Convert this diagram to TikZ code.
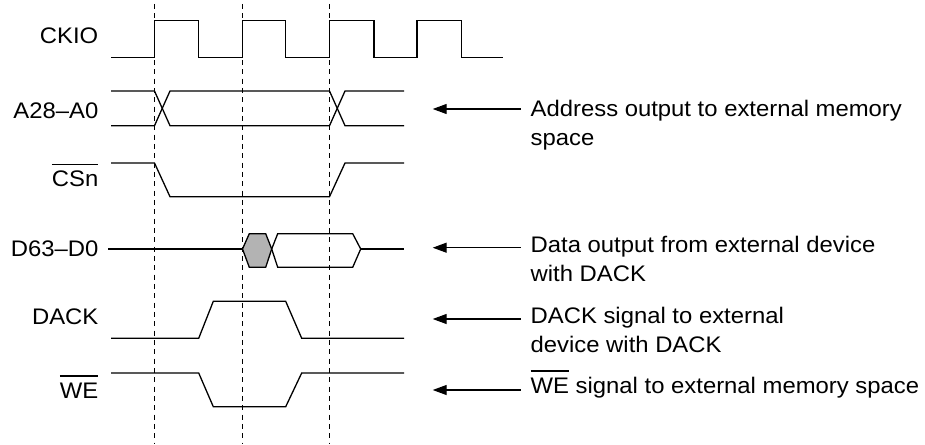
\documentclass[tikz,border=0pt]{standalone}
\usepackage{fontspec}
\setmainfont{Liberation Sans}[FakeStretch=1.06]
\usetikzlibrary{arrows.meta}
\definecolor{hexgray}{RGB}{179,179,179}
\newcommand\olbar[1]{\leavevmode\vbox{\hrule height 1.1pt\kern 6.3pt\hbox{#1}}}
\begin{document}
\begin{tikzpicture}[x=1pt,y=-1pt,
  sig/.style={line width=1.3pt, line join=miter},
  guide/.style={line width=1.2pt, dash pattern=on 5pt off 4.33pt},
  lbl/.style={inner sep=0pt, anchor=base east, font=\fontsize{22.5pt}{29pt}\selectfont},
  note/.style={inner sep=0pt, anchor=base west, align=left, font=\fontsize{22.5pt}{29pt}\selectfont},
  pointer/.style={line width=1.2pt, -{Triangle[length=14pt,width=10pt]}}]
\useasboundingbox (0,0) rectangle (925,444);

% dashed guide lines
\foreach \gx/\gn in {154.5/g1,242.5/g2,329.5/g3}{
  \coordinate (\gn top) at (\gx,4);
  \coordinate (\gn bot) at (\gx,444);
  \draw[guide] (\gn top) -- (\gn bot);
}

% signal labels
\node[lbl] (lckio) at (98.5,43.3) {CKIO};
\node[lbl] (laddr) at (98.5,118.3) {A28–A0};
\node[lbl] (lcs)   at (98.5,186.7) {\olbar{CSn}};
\node[lbl] (ldata) at (98.5,256.7) {D63–D0};
\node[lbl] (ldack) at (98.5,324) {DACK};
\node[lbl] (lwe)   at (98.5,398.3) {\olbar{WE}};

% CKIO
\draw[sig] (111,57.5) -- (154.5,57.5) -- (154.5,20.5) -- (198.5,20.5) -- (198.5,57.5)
  -- (242.5,57.5) -- (242.5,20.5) -- (285.5,20.5) -- (285.5,57.5)
  -- (329.5,57.5) -- (329.5,20.5) -- (374,20.5) -- (374,57.5)
  -- (417,57.5) -- (417,20.5) -- (461.3,20.5) -- (461.3,57.5) -- (503,57.5);

% A28-A0
\draw[sig] (111,91) -- (154.5,91) -- (170,125.7) -- (329.5,125.7) -- (345,91) -- (404,91);
\draw[sig] (111,125.7) -- (154.5,125.7) -- (170,91) -- (329.5,91) -- (345,125.7) -- (404,125.7);

% CSn
\draw[sig] (111,163) -- (154.5,163) -- (170,196.7) -- (329.5,196.7) -- (345,163) -- (404,163);

% D63-D0
\draw[sig] (108.3,249) -- (242.5,249);
\draw[sig, fill=hexgray] (242.5,249) -- (249.3,233.7) -- (265.7,233.7) -- (271.7,249)
  -- (265.7,267.3) -- (249.3,267.3) -- cycle;
\draw[sig] (271.7,249) -- (277.7,233.7) -- (352.7,233.7) -- (360.7,249)
  -- (352.7,267.3) -- (277.7,267.3) -- cycle;
\draw[sig] (360.7,249) -- (404,249);

% DACK
\draw[sig] (111,338.3) -- (198.7,338.3) -- (213.3,301.3) -- (285.7,301.3) -- (301.7,338.3) -- (404,338.3);

% WE
\draw[sig] (111,373) -- (198.7,373) -- (213.3,406.7) -- (285.7,406.7) -- (301.7,373) -- (404,373);

% annotations (base anchor = baseline of the last line)
\node[note] (naddr) at (530.5,145) {Address output to external memory\\space};
\node[note] (ndata) at (530.5,281.3) {Data output from external device\\with DACK};
\node[note] (ndack) at (530.5,352.8) {DACK signal to external\\device with DACK};
\node[note] (nwe)   at (530.5,393.3) {\olbar{WE} signal to external memory space};

\foreach \ay/\an in {109/a1,247.7/a2,319/a3,390/a4}{
  \coordinate (\an s) at (520.7,\ay);
  \coordinate (\an e) at (432.7,\ay);
  \draw[pointer] (\an s) -- (\an e);
}
\end{tikzpicture}
\end{document}
